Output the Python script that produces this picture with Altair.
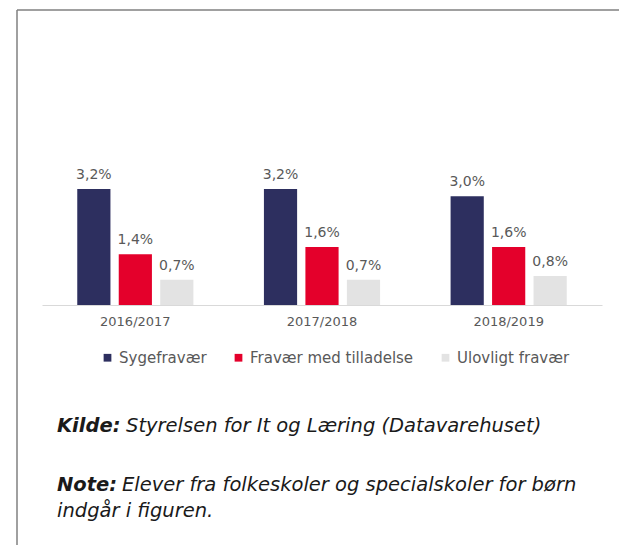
import altair as alt
import pandas as pd

years = ["2016/2017", "2017/2018", "2018/2019"]
series = ["Sygefravær", "Fravær med tilladelse", "Ulovligt fravær"]
syge = [3.2, 3.2, 3.0]
tilladelse = [1.4, 1.6, 1.6]
ulovligt = [0.7, 0.7, 0.8]
colors = ["#2d2f5f", "#e4002b", "#e3e3e3"]

source_label = "Kilde:"
source_text = "Styrelsen for It og Læring (Datavarehuset)"
note_label = "Note:"
note_line1 = "Elever fra folkeskoler og specialskoler for børn"
note_line2 = "indgår i figuren."

rows = []
for s, vals in zip(series, [syge, tilladelse, ulovligt]):
    for yr, v in zip(years, vals):
        rows.append({"year": yr, "serie": s, "value": v,
                     "label": f"{v:.1f}".replace(".", ",") + "%"})
df = pd.DataFrame(rows)

GRAY = "#595959"
FONT = "DejaVu Sans"
NOTE_FONT = "DejaVu Sans"

x = alt.X("year:N", sort=years,
          scale=alt.Scale(paddingInner=0, paddingOuter=0),
          axis=alt.Axis(title=None, labelAngle=0, ticks=False, grid=False,
                        domainColor="#d9d9d9", domainWidth=1,
                        labelFont=FONT, labelFontSize=13, labelColor=GRAY,
                        labelPadding=10))
xo = alt.XOffset("serie:N", sort=series,
                 scale=alt.Scale(paddingInner=0.2, paddingOuter=0.85))
y = alt.Y("value:Q", scale=alt.Scale(domain=[0, 4]), axis=None)

base = alt.Chart(df)

bars = base.mark_bar().encode(
    x=x, xOffset=xo, y=y,
    color=alt.Color("serie:N",
                    scale=alt.Scale(domain=series, range=colors),
                    legend=alt.Legend(title=None, orient="none",
                                      legendX=58, legendY=190,
                                      direction="horizontal",
                                      symbolType="square", symbolSize=60,
                                      symbolStrokeWidth=0,
                                      labelFont=FONT, labelFontSize=15,
                                      labelColor=GRAY, labelOffset=4,
                                      labelLimit=400,
                                      columnPadding=24)),
)

labels = base.mark_text(baseline="bottom", dy=-7, font=FONT, fontSize=14,
                        color=GRAY).encode(
    x=x, xOffset=xo, y=y, text="label:N")

one = alt.Data(values=[{"a": 1}])

def txt(s, px, py, bold=False):
    return alt.Chart(one).mark_text(
        text=s, align="left", baseline="alphabetic", font=NOTE_FONT,
        fontSize=19.5, fontStyle="italic",
        fontWeight="bold" if bold else "normal", color="#1a1a1a",
    ).encode(x=alt.value(px), y=alt.value(py))

notes = (txt(source_label, 15, 272, True) + txt(source_text, 84, 272)
         + txt(note_label, 15, 331, True) + txt(note_line1, 80, 331)
         + txt(note_line2, 15, 357))

border_top = alt.Chart(one).mark_rule(color="#808080", strokeWidth=1.5).encode(
    x=alt.value(-25), x2=alt.value(600), y=alt.value(-150))
border_left = alt.Chart(one).mark_rule(color="#808080", strokeWidth=1.5).encode(
    x=alt.value(-25), y=alt.value(-150), y2=alt.value(400))

chart = alt.layer(border_top, border_left, bars, labels, notes).properties(
    width=560, height=145,
    padding={"left": 34, "top": 152, "right": 17, "bottom": 240},
    autosize=alt.AutoSizeParams(type="none"),
).configure_view(stroke=None)

chart.save("out.html", embed_options={"renderer": "svg", "actions": False})
